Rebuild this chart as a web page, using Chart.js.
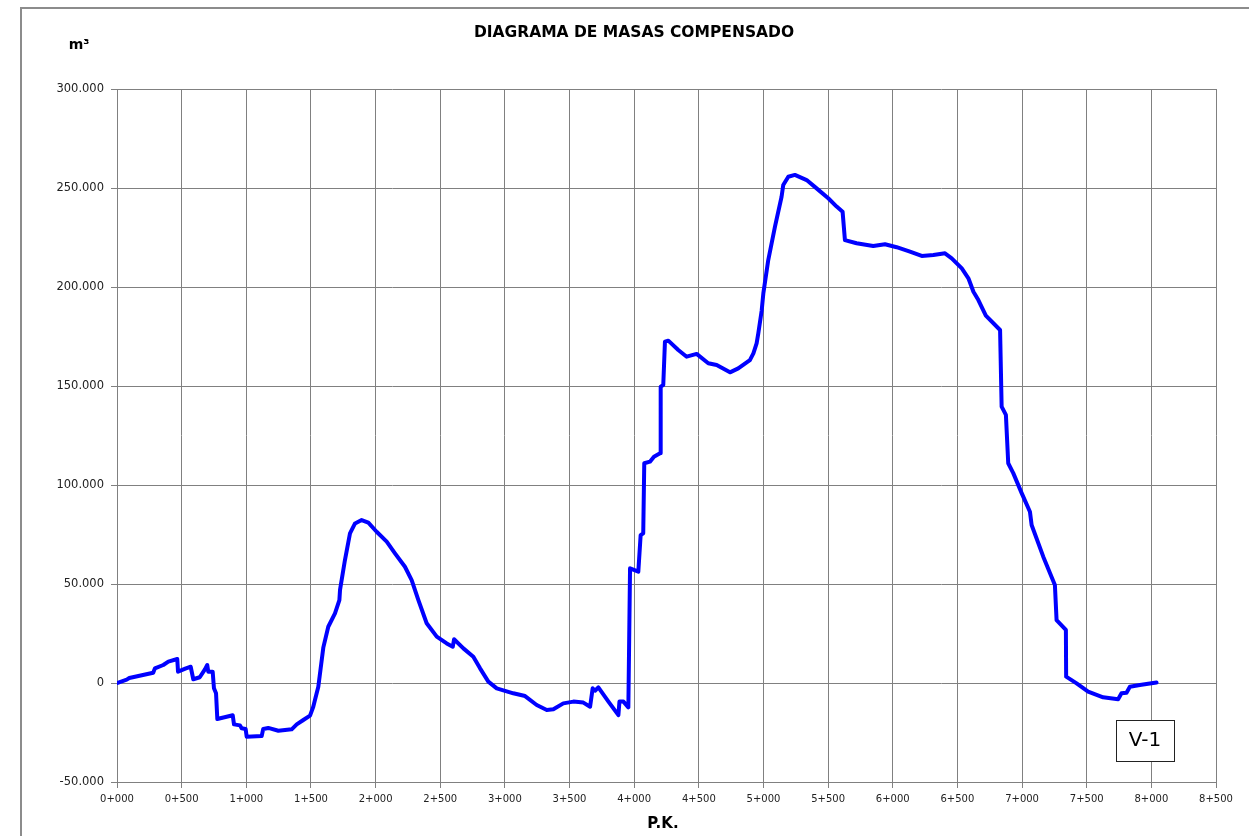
<!DOCTYPE html>
<html>
<head>
<meta charset="utf-8">
<script src="https://cdn.jsdelivr.net/npm/chart.js@4"></script>
<style>
html,body{margin:0;padding:0;background:#fff;}
#c{display:block;}
</style>
</head>
<body>
<canvas id="c" width="1249" height="836"></canvas>
<script>
// P.K. in metres
const pk = [0,75,95,280,293,358,397,466,472,533,570,590,640,680,698,706,740,750,766,776,895,905,951,964,995,1003,1119,1131,1170,1248,1351,1390,1441,1493,1518,1531,1557,1596,1634,1686,1720,1725,1763,1802,1841,1892,1944,2008,2086,2150,2227,2279,2331,2395,2473,2550,2597,2607,2679,2756,2808,2872,2937,3065,3156,3246,3324,3375,3452,3530,3607,3659,3679,3697,3723,3801,3878,3886,3917,3955,3968,4032,4050,4070,4078,4122,4153,4200,4205,4225,4238,4264,4341,4406,4483,4573,4638,4741,4805,4895,4922,4947,4960,4986,4999,5037,5089,5140,5153,5192,5243,5334,5411,5501,5566,5612,5630,5720,5849,5940,6030,6133,6224,6314,6404,6456,6534,6585,6624,6662,6720,6830,6842,6875,6893,6932,6997,7061,7074,7164,7254,7267,7339,7341,7422,7511,7627,7743,7769,7808,7834,7911,8040];
// Accumulated volume, thousands of m³
const volume = [0,1.7,2.5,5.2,7.4,9.1,10.8,12.1,5.7,7.4,8.2,1.9,2.9,6.9,9.1,5.7,5.7,-2.7,-5.2,-18.2,-16.3,-20.9,-21.4,-22.9,-23.2,-27.1,-26.8,-23.2,-22.7,-24.1,-23.4,-20.9,-18.7,-16.5,-12,-8.6,-1.9,18,28.4,35.2,41.9,47,62.1,75.6,80.6,82.3,81,76.4,71.4,65.5,58.7,52,41.9,30.2,23.4,20,18.3,22.1,17.5,13.3,7.4,0.7,-2.7,-5.2,-6.6,-11.1,-13.6,-13.3,-10.3,-9.4,-9.9,-12,-2.7,-3.9,-2.2,-9.4,-16.2,-9.4,-9.4,-12.3,57.9,56.2,74.7,75.6,111,111.8,114.3,116,149.7,150.5,172.4,172.9,168.2,164.8,166.2,161.5,160.6,156.9,158.9,163.1,166.5,171.5,176.6,188,196.8,213.6,230.5,245.6,251.5,255.7,256.6,254,249.8,244.8,240.6,238,223.7,222.1,220.7,221.6,220.1,217.9,215.7,216.2,217,214.5,209.4,204.4,197.6,193.4,185.5,178.3,139.6,135.4,111,106,95.9,86.5,79.8,63.8,49.5,31.8,26.8,3.2,-0.2,-4.4,-7.2,-8.2,-5.2,-4.9,-1.9,-1,0.2];
const xTicks = [0,500,1000,1500,2000,2500,3000,3500,4000,4500,5000,5500,6000,6500,7000,7500,8000,8500];
const yTicks = [-50000,0,50000,100000,150000,200000,250000,300000];
const titleText = 'DIAGRAMA DE MASAS COMPENSADO';
const yUnit = 'm³';
const xTitle = 'P.K.';
const tagText = 'V-1';

const points = pk.map((p,i)=>({x:p, y:volume[i]*1000}));

function fmtPK(v){const k=Math.floor(v/1000);const m=v-k*1000;return k+'+'+String(m).padStart(3,'0');}
function fmtVol(v){if(v===0)return '0';const s=Math.abs(v).toString();const r=s.replace(/\B(?=(\d{3})+(?!\d))/g,'.');return (v<0?'-':'')+r;}

const deco = {
  id:'deco',
  beforeDraw(chart){
    const ctx=chart.ctx;
    ctx.save();
    ctx.fillStyle='#fff';ctx.fillRect(0,0,chart.width,chart.height);
    ctx.strokeStyle='#8c8c8c';ctx.lineWidth=2;
    ctx.strokeRect(21,8,1400,1000);
    ctx.restore();
  },
  afterDraw(chart){
    const ctx=chart.ctx;
    ctx.save();
    ctx.fillStyle='#000';
    ctx.textAlign='center';ctx.textBaseline='middle';
    ctx.font='bold 15.5px "DejaVu Sans"';
    ctx.fillText(titleText,634,33);
    ctx.font='bold 14px "DejaVu Sans"';
    ctx.fillText(yUnit,79,45);
    ctx.font='bold 15px "DejaVu Sans"';
    ctx.fillText(xTitle,663,824);
    // tag box
    ctx.fillStyle='#fff';ctx.fillRect(1116,720,58,41);
    ctx.strokeStyle='#222';ctx.lineWidth=1;
    ctx.strokeRect(1116.5,720.5,58,41);
    ctx.fillStyle='#000';
    ctx.font='20px "DejaVu Sans"';
    ctx.fillText(tagText,1145,741);
    ctx.restore();
  }
};

new Chart(document.getElementById('c'),{
  type:'line',
  data:{datasets:[{data:points,borderColor:'#0000ff',borderWidth:4,borderJoinStyle:'round',borderCapStyle:'round',pointRadius:0,tension:0,fill:false}]},
  options:{
    responsive:false,animation:false,
    layout:{padding:{left:0,top:89,right:33,bottom:0}},
    plugins:{legend:{display:false},tooltip:{enabled:false}},
    scales:{
      x:{type:'linear',min:0,max:8500,
        afterBuildTicks(s){s.ticks=xTicks.map(v=>({value:v}));},
        afterFit(s){s.height=54;},
        grid:{color:'#808080',lineWidth:1,tickLength:6,drawTicks:true},
        border:{color:'#808080'},
        ticks:{callback:(v)=>fmtPK(v),font:{family:'"DejaVu Sans"',size:10},color:'#222',padding:5,maxRotation:0,autoSkip:false}
      },
      y:{min:-50000,max:300000,
        afterBuildTicks(s){s.ticks=yTicks.map(v=>({value:v}));},
        afterFit(s){s.width=117;},
        grid:{color:'#808080',lineWidth:1,tickLength:6,drawTicks:true},
        border:{color:'#808080'},
        ticks:{callback:(v)=>fmtVol(v),font:{family:'"DejaVu Sans"',size:11.5},color:'#222',padding:7}
      }
    }
  },
  plugins:[deco]
});
</script>
</body>
</html>
